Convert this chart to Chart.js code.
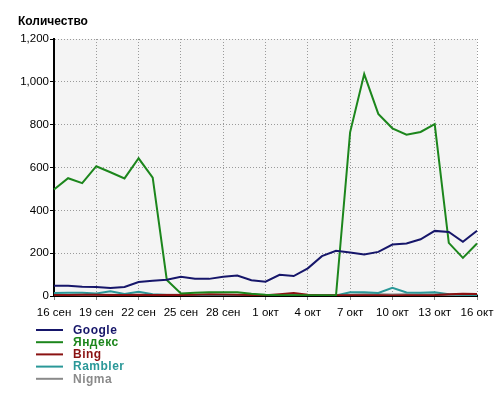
<!DOCTYPE html>
<html>
<head>
<meta charset="utf-8">
<script src="https://cdn.jsdelivr.net/npm/chart.js@4/dist/chart.umd.min.js"></script>
<style>
html,body{margin:0;padding:0;background:#fff;}
#wrap{width:500px;height:398px;position:relative;}
</style>
</head>
<body>
<div id="wrap"><canvas id="c" width="500" height="398"></canvas></div>
<script>
const categories = ["16 сен","17 сен","18 сен","19 сен","20 сен","21 сен","22 сен","23 сен","24 сен","25 сен","26 сен","27 сен","28 сен","29 сен","30 сен","1 окт","2 окт","3 окт","4 окт","5 окт","6 окт","7 окт","8 окт","9 окт","10 окт","11 окт","12 окт","13 окт","14 окт","15 окт","16 окт"];
const seriesNames = ["Google","Яндекс","Bing","Rambler","Nigma"];
const google  = [48,48,43,42,37,42,65,71,76,90,81,80,90,96,74,67,99,93,129,186,211,203,194,206,240,245,265,304,299,253,305];
const yandex  = [497,550,527,606,578,549,643,553,75,12,15,17,18,17,10,6,4,3,3,3,2,764,1036,850,783,753,766,803,248,178,245];
const bing    = [5,5,6,6,5,5,6,5,5,5,6,8,7,6,5,3,8,14,6,4,3,3,4,4,2,4,4,5,8,10,9];
const rambler = [14,15,15,12,22,9,20,8,5,3,3,2,2,3,2,2,2,2,3,2,2,17,17,14,38,16,15,18,8,6,5];
const nigma   = [4,5,5,4,6,5,4,5,6,6,5,4,5,5,4,3,3,4,3,3,3,6,8,8,7,8,7,7,5,4,4];
const yTicks  = [0,200,400,600,800,1000,1200];
const colors  = ["#16166a","#1c861c","#8a1212","#2a9898","#8a8a8a"];

const FONT = "'Liberation Sans', Arial, sans-serif";

const bgPlugin = {
  id: 'plotBg',
  beforeDraw(chart) {
    const {ctx, chartArea: a} = chart;
    ctx.save();
    ctx.fillStyle = '#f4f4f4';
    ctx.fillRect(a.left, a.top, a.right - a.left, a.bottom - a.top);
    ctx.restore();
  }
};

const legendPlugin = {
  id: 'vertLegend',
  afterDraw(chart) {
    const {ctx, chartArea: a} = chart;
    ctx.save();
    ctx.font = "bold 12px " + FONT;
    ctx.textBaseline = 'middle';
    chart.data.datasets.forEach((ds, i) => {
      const y = a.bottom + 34 + i * 12.2;
      ctx.strokeStyle = ds.borderColor;
      ctx.lineWidth = 2;
      ctx.beginPath();
      ctx.moveTo(a.left - 18, y);
      ctx.lineTo(a.left + 9, y);
      ctx.stroke();
      ctx.fillStyle = ds.borderColor;
      try { ctx.letterSpacing = '0.5px'; } catch(e) {}
      ctx.fillText(ds.label, a.left + 19, y + 0.5);
    });
    ctx.restore();
  }
};

const seriesData = [google, yandex, bing, rambler, nigma];
const datasets = seriesNames.map((name, i) => ({
  label: name,
  data: seriesData[i],
  borderColor: colors[i],
  backgroundColor: colors[i],
  borderWidth: 2,
  pointRadius: 0,
  tension: 0,
  fill: false
}));

new Chart(document.getElementById('c'), {
  type: 'line',
  data: { labels: categories, datasets },
  plugins: [bgPlugin, legendPlugin],
  options: {
    responsive: false,
    animation: false,
    layout: { padding: { left: 18, right: 23, top: 0, bottom: 0 } },
    plugins: {
      legend: { display: false },
      tooltip: { enabled: false },
      title: {
        display: true,
        text: 'Количество',
        align: 'start',
        color: '#000',
        font: { family: FONT, size: 12, weight: 'bold', lineHeight: 1.2 },
        padding: { top: 14, bottom: 10.6 }
      }
    },
    scales: {
      x: {
        type: 'category',
        offset: false,
        afterFit(scale) { scale.height = 102; },
        ticks: {
          autoSkip: false,
          maxRotation: 0,
          minRotation: 0,
          padding: 6,
          color: '#000',
          font: { family: FONT, size: 11.5 },
          callback(v, i) { return i % 3 === 0 ? categories[i] : null; }
        },
        grid: {
          color: '#9a9a9a',
          lineWidth: 1,
          drawTicks: true,
          tickLength: 4,
          tickColor: '#888',
          tickBorderDash: []
        },
        border: { display: true, color: '#000', width: 2, dash: [1, 2] }
      },
      y: {
        min: 0,
        max: 1200,
        afterFit(scale) { scale.width = 36; },
        afterBuildTicks(scale) { scale.ticks = yTicks.map(v => ({ value: v })); },
        ticks: {
          padding: 1,
          color: '#000',
          font: { family: FONT, size: 11.5 },
          callback(v) { return v.toLocaleString('en-US'); }
        },
        grid: {
          color: '#9a9a9a',
          lineWidth: 1,
          drawTicks: true,
          tickLength: 4,
          tickColor: '#000',
          tickBorderDash: []
        },
        border: { display: true, color: '#000', width: 2, dash: [1, 2] }
      }
    }
  }
});
</script>
</body>
</html>
